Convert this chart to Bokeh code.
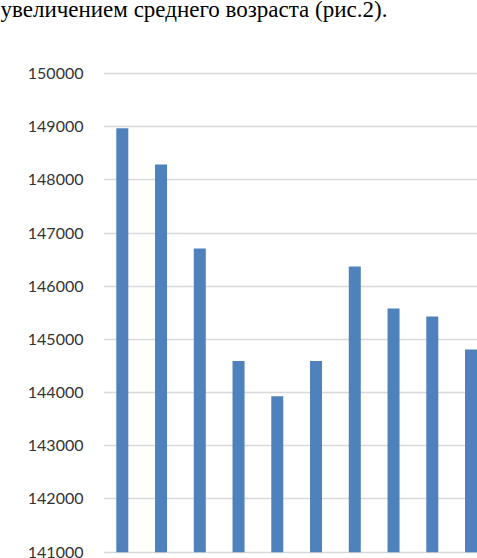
from bokeh.plotting import figure
from bokeh.models import Range1d, FixedTicker, ColumnDataSource, BasicTickFormatter, Title
from bokeh.embed import file_html
from bokeh.resources import INLINE

# Data (categories' labels are cut off in the reference)
positions = [0, 1, 2, 3, 4, 5, 6, 7, 8, 9]
values = [148970, 148290, 146710, 144595, 143930, 144595, 146370, 145580, 145430, 144810]
y_ticks = [141000, 142000, 143000, 144000, 145000, 146000, 147000, 148000, 149000, 150000]
caption = "увеличением среднего возраста (рис.2)."

W, H = 477, 558
p = figure(width=W, height=H, output_backend="svg", toolbar_location=None,
           x_range=Range1d(-0.485, 9.167), y_range=Range1d(140881, 150188),
           min_border_left=103, min_border_right=0, min_border_top=0, min_border_bottom=0,
           outline_line_color=None)

# caption line (outermost panel)
p.title.text = caption
p.title.align = "left"
p.title.offset = -103
p.title.standoff = -8
p.title.vertical_align = "top"
p.title.text_font = "Liberation Serif"
p.title.text_font_size = "23px"
p.title.text_font_style = "normal"
p.title.text_color = "#000000"

# blank spacer between caption and chart area
spacer = Title(text="\u00a0", standoff=17, text_font="Liberation Serif",
               text_font_size="23px", text_font_style="normal")
p.add_layout(spacer, "above")

src = ColumnDataSource(dict(x=positions, top=values))
p.vbar(x="x", top="top", bottom=y_ticks[0], width=0.31, source=src,
       fill_color="#4f81bd", line_color=None)

p.xaxis.visible = False
p.xgrid.visible = False
p.yaxis.ticker = FixedTicker(ticks=y_ticks)
p.yaxis.formatter = BasicTickFormatter(use_scientific=False)
p.yaxis.axis_line_color = None
p.yaxis.major_tick_line_color = None
p.yaxis.minor_tick_line_color = None
p.yaxis.major_tick_out = 0
p.yaxis.major_tick_in = 0
p.yaxis.major_label_standoff = 20
p.yaxis.major_label_text_font = "Lato"
p.yaxis.major_label_text_font_size = "16px"
p.yaxis.major_label_text_color = "#333333"
p.ygrid.grid_line_color = "#d9d9d9"
p.ygrid.grid_line_width = 1.5

open("out.html", "w").write(file_html(p, INLINE))
